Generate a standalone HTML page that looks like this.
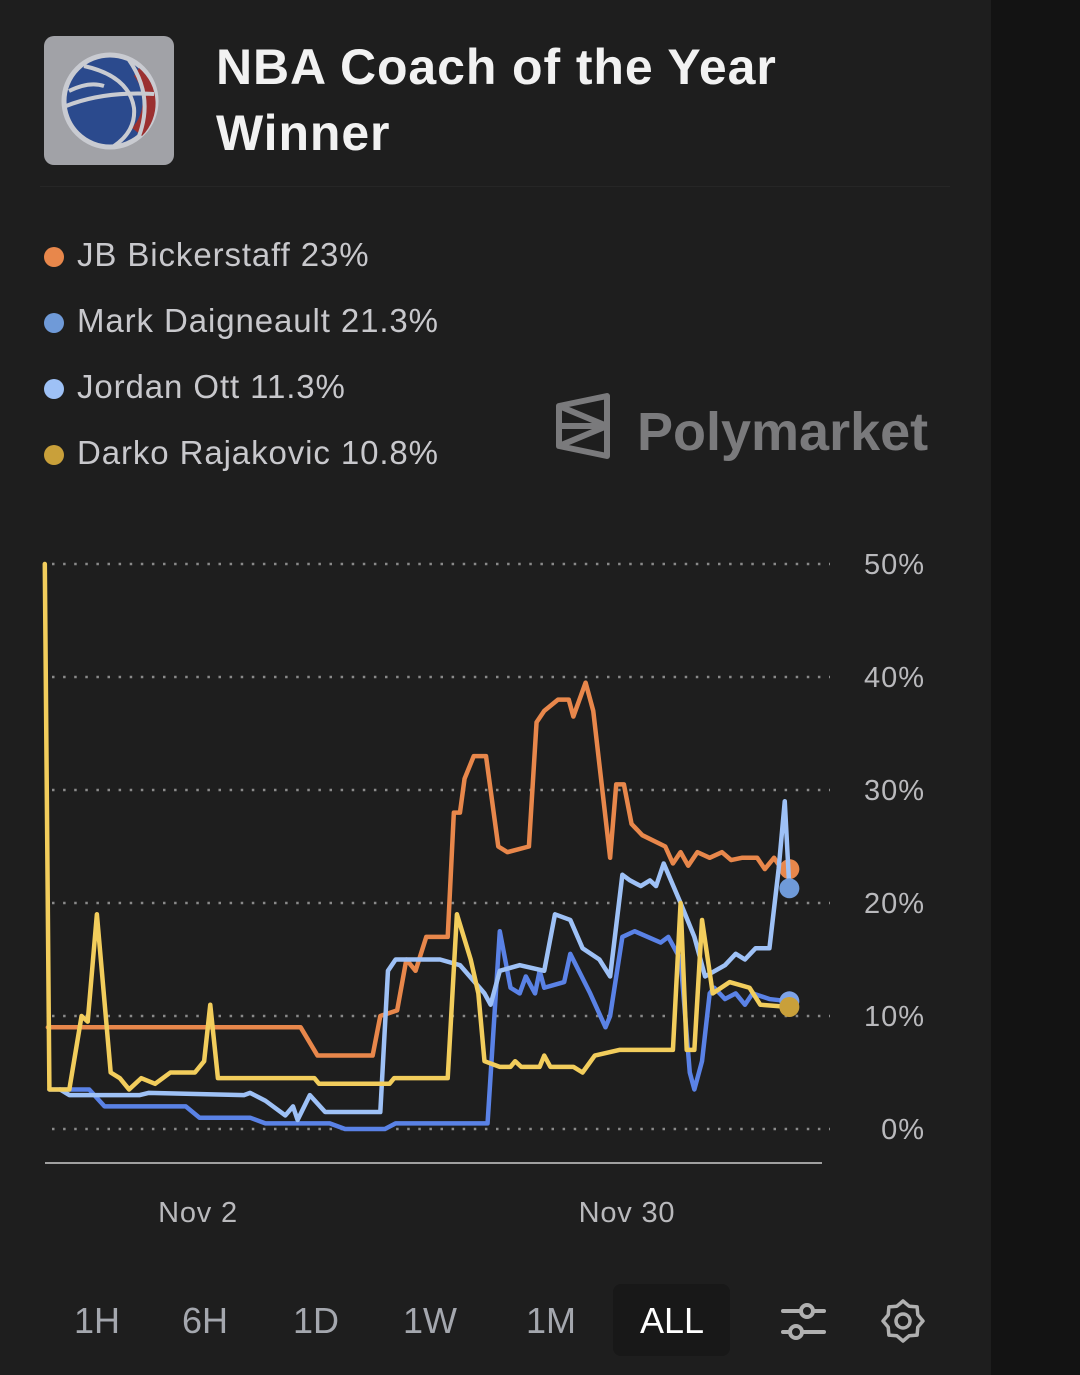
<!DOCTYPE html>
<html><head><meta charset="utf-8"><style>
body{margin:0;width:1080px;height:1375px;background:#1e1e1e;overflow:hidden;font-family:"Liberation Sans",sans-serif;position:relative}
.abs{position:absolute}
#strip{left:991px;top:0;width:89px;height:1375px;background:#131313}
#logo{left:44px;top:36px;width:130px;height:129px;border-radius:10px;background:#a1a2a7}
#title{left:216px;top:34px;color:#f2f2f2;font-size:50px;font-weight:bold;line-height:66px;letter-spacing:0.9px}
#div{left:40px;top:186px;width:910px;height:1px;background:#262626}
.leg{left:44px;font-size:33px;color:#c8c8cc;height:40px;line-height:40px;letter-spacing:0.9px}
.leg i{display:inline-block;width:20px;height:20px;border-radius:50%;margin-right:13px;vertical-align:-1px}
#wm{left:555px;top:392px;color:#7a7a7c;font-size:54px;font-weight:bold}
.btn{top:1298px;font-size:36px;color:#a4a7ae;height:46px;line-height:46px}
</style></head><body>
<div class="abs" id="strip"></div>
<div class="abs" id="logo">
<svg width="130" height="129" viewBox="0 0 130 129"><circle cx="66" cy="65" r="46" fill="#2b4a8d" stroke="#c9cbd1" stroke-width="5"/><path d="M95 32 A46 46 0 0 1 98 100 L88 92 A40 40 0 0 0 90 40Z" fill="#9b3030"/><path d="M22 70 Q60 55 110 58 M40 30 Q85 40 90 72 Q92 95 70 110 M25 55 Q45 45 60 50 M85 24 Q110 60 95 100" fill="none" stroke="#c9cbd1" stroke-width="4"/></svg></div>
<div class="abs" id="title">NBA Coach of the Year<br>Winner</div>
<div class="abs" id="div"></div>
<div class="abs leg" style="top:235px"><i style="background:#e8874b"></i>JB Bickerstaff 23%</div>
<div class="abs leg" style="top:301px"><i style="background:#6f9ad8"></i>Mark Daigneault 21.3%</div>
<div class="abs leg" style="top:367px"><i style="background:#9ec1f6"></i>Jordan Ott 11.3%</div>
<div class="abs leg" style="top:433px"><i style="background:#c9a03a"></i>Darko Rajakovic 10.8%</div>
<div class="abs" id="wm"><svg width="58" height="68" viewBox="0 0 58 68" style="vertical-align:-10px;margin-right:24px"><path d="M4 14 L52 4 L52 64 L4 54 Z M4 14 L52 34 L4 54 M4 34 L52 34" fill="none" stroke="#7a7a7c" stroke-width="6" stroke-linejoin="round"/></svg>Polymarket</div>
<svg class="abs" id="chart" style="left:0;top:0" width="1080" height="1375"></svg>
<div class="abs btn" style="left:74px">1H</div>
<div class="abs btn" style="left:182px">6H</div>
<div class="abs btn" style="left:293px">1D</div>
<div class="abs btn" style="left:403px">1W</div>
<div class="abs btn" style="left:526px">1M</div>
<div class="abs" style="left:613px;top:1284px;width:117px;height:72px;border-radius:8px;background:#181818"></div>
<div class="abs btn" style="left:640px;color:#fff">ALL</div>
<svg class="abs" style="left:780px;top:1300px" width="48" height="40"><path d="M3 11H44M3 32H44" stroke="#b0b0b0" stroke-width="4" stroke-linecap="round"/><circle cx="27" cy="11" r="6" fill="#1e1e1e" stroke="#b0b0b0" stroke-width="4"/><circle cx="16" cy="32" r="6" fill="#1e1e1e" stroke="#b0b0b0" stroke-width="4"/></svg>
<svg class="abs" style="left:880px;top:1298px" width="46" height="46" viewBox="-23 -23 46 46"><path id="gear" fill="none" stroke="#b0b0b0" stroke-width="3.5" stroke-linejoin="round"/><circle r="7" fill="none" stroke="#b0b0b0" stroke-width="3.5"/></svg>
<script>
const yTicks=[0,10,20,30,40,50];
const xTickDays=[2,30];
const xTickLabels=["Nov 2","Nov 30"];
const bickDays=[-7.8,8.7,9.8,13.4,13.9,15,15.6,16.2,16.9,18.3,18.7,19.1,19.4,20,20.8,21.6,22.2,23.6,24.1,24.6,25.5,26.2,26.5,27.3,27.8,28.9,29.3,29.8,30.3,31,32.5,33,33.5,34,34.6,35.4,36.2,36.8,37.5,38.5,39,39.6,40.2,40.6];
const bickVals=[9,9,6.5,6.5,10,10.5,15,14,17,17,28,28,31,33,33,25,24.5,25,36,37,38,38,36.5,39.5,37,24,30.5,30.5,27,26,25,23.5,24.5,23.3,24.5,24,24.5,23.8,24,24,23,24,22.8,23];
const darkoDays=[-8,-7.7,-6.4,-5.6,-5.2,-4.6,-3.7,-3.1,-2.5,-1.7,-0.8,0.2,1.8,2.4,2.8,3.3,9.6,9.9,14.5,14.8,18.3,18.9,19.8,20.3,20.7,21.7,22.4,22.7,23.1,24.3,24.6,25,26.5,27.1,27.9,29.5,33,33.5,33.9,34.4,34.9,35.6,36.7,38,38.7,40.6];
const darkoVals=[50,3.5,3.5,10,9.5,19,5,4.5,3.5,4.5,4,5,5,6,11,4.5,4.5,4,4,4.5,4.5,19,15,12,6,5.5,5.5,6,5.5,5.5,6.5,5.5,5.5,5,6.5,7,7,20,7,7,18.5,12,13,12.5,11,10.8];
const markDays=[-7,-6.4,-4.4,-1.8,-1.2,5,5.4,6.4,7.7,8.2,8.5,9.3,10.3,13.9,14.4,14.9,17.8,19.1,20.7,21.1,21.7,23,24.6,25.3,26.3,27.1,28.2,28.9,29.7,30.2,30.9,31.5,31.9,32.4,33.5,34.4,35.1,36.4,37.1,37.7,38.4,39.3,39.9,40.3,40.6];
const markVals=[3.5,3,3,3,3.2,3,3.2,2.5,1.2,2,0.8,3,1.5,1.5,14,15,15,14.5,12,11,14,14.5,14,19,18.5,16,15,13.5,22.5,22,21.5,22,21.5,23.5,20,17,13.5,14.5,15.5,15,16,16,23,29,21.3];
const ottDays=[-7.7,-5.1,-4.1,1.2,2.1,5.4,6.4,10.6,11.6,14.2,14.9,20.9,21.7,22.4,23,23.4,24,24.3,24.6,25.9,26.3,27.6,28.6,28.9,29.7,30.5,32.2,32.7,33.5,34.1,34.4,34.9,35.4,35.7,36.4,37.1,37.7,38.2,39.3,40.6];
const ottVals=[3.5,3.5,2,2,1,1,0.5,0.5,0,0,0.5,0.5,17.5,12.5,12,13.5,12,14,12.5,13,15.5,12,9,10,17,17.5,16.5,17,15,5,3.5,6,12,12.5,11.5,12,11,12,11.5,11.3];
const NS='http://www.w3.org/2000/svg';
const svg=document.getElementById('chart');
const x=d=>198+(d-2)*15.32;
const y=v=>1129-v*11.3;
function mk(t,a){const e=document.createElementNS(NS,t);for(const k in a)e.setAttribute(k,a[k]);svg.appendChild(e);return e;}
yTicks.forEach(v=>{
 const g=mk('line',{x1:52,x2:830,y1:y(v),y2:y(v),stroke:'#8a8a8a','stroke-width':2.5,'stroke-dasharray':'2.5 8.6'});
 
 
 const t=mk('text',{x:925,y:y(v)+10,'text-anchor':'end',fill:'#b9b9bc','font-size':29,'letter-spacing':1,'font-family':'Liberation Sans'});
 t.textContent=v+'%';
 
 
});
const ax=mk('line',{x1:45,x2:822,y1:1163,y2:1163,stroke:'#a0a0a0','stroke-width':2});


xTickDays.forEach((d,i)=>{
 const t=mk('text',{x:x(d),y:1222,'text-anchor':'middle',fill:'#b9b9bc','font-size':29,'letter-spacing':0.8,'font-family':'Liberation Sans'});
 t.textContent=xTickLabels[i];
 
 
});
function series(ds,vs,color,name,dot){
 const p=mk('polyline',{points:ds.map((d,i)=>x(d)+','+y(vs[i])).join(' '),fill:'none',stroke:color,'stroke-width':4.5,'stroke-linejoin':'round','stroke-linecap':'round'});
 
 
 const n=ds.length-1;
 const c=mk('circle',{cx:x(ds[n]),cy:y(vs[n]),r:10,fill:dot});
 
 
}
series(bickDays,bickVals,'#e8874b','bickerstaff','#e8874b');
series(ottDays,ottVals,'#5a82e6','ott','#7da3e8');
series(markDays,markVals,'#9ec1f6','daigneault','#6f9ad8');
series(darkoDays,darkoVals,'#f2cd5c','rajakovic','#c9a03a');
let d='';for(let i=0;i<16;i++){const a=i*Math.PI/8,r=i%2?16:20;d+=(i?'L':'M')+(r*Math.cos(a)).toFixed(1)+' '+(r*Math.sin(a)).toFixed(1);}
document.getElementById('gear').setAttribute('d',d+'Z');
</script>
</body></html>
